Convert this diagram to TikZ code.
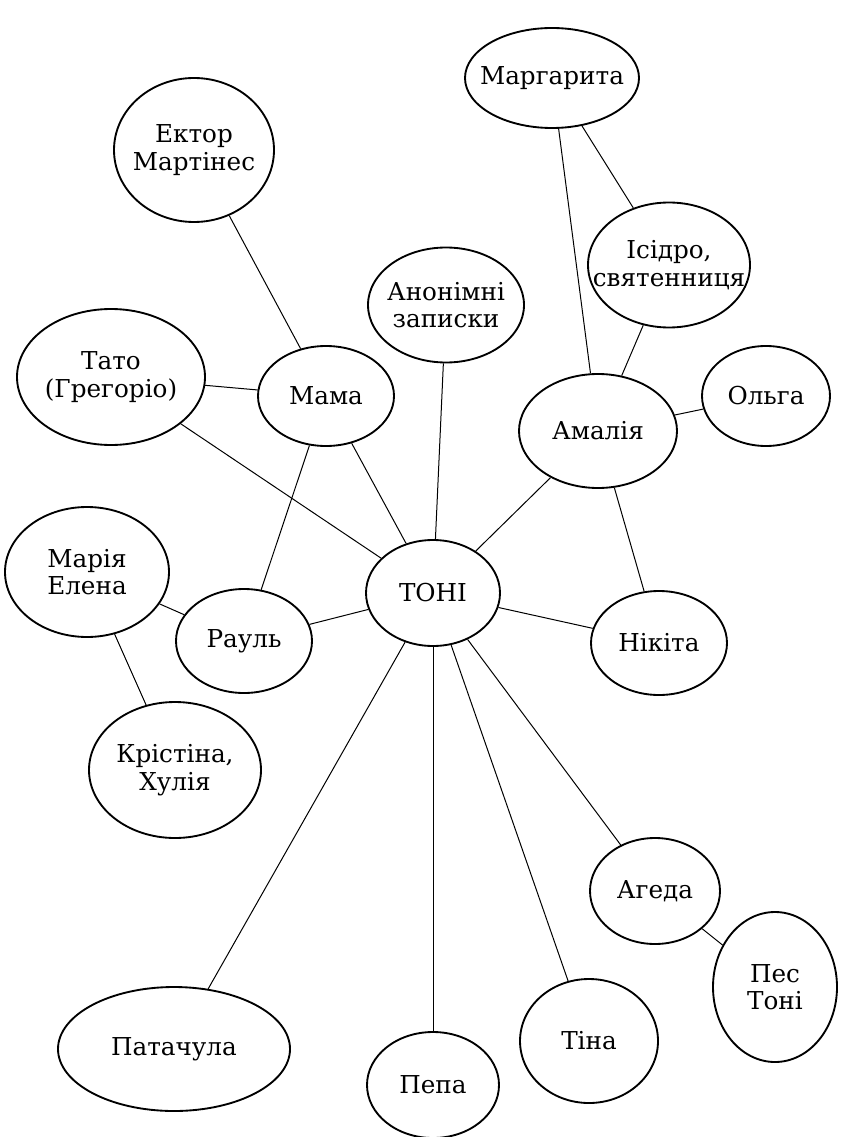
\documentclass[tikz,border=0pt]{standalone}
\usepackage{fontspec}
\setmainfont{DejaVu Serif}
\usetikzlibrary{shapes.geometric}
\tikzset{
  bulle/.style 2 args={ellipse, draw, line width=1.4pt, inner xsep=-25pt, inner ysep=-10pt,
    minimum width=#1*0.75pt, minimum height=#2*0.75pt, align=center,
    font=\fontsize{18.5}{20.5}\selectfont},
  lien/.style={line width=0.75pt}
}
\begin{document}
\begin{tikzpicture}[x=0.75pt,y=-0.75pt]
	\useasboundingbox (0,0) rectangle (849,1137);
		\node[bulle={174}{100}] (margarita) at (552,78) {Маргарита};
		\node[bulle={160}{144}] (ector) at (194,150) {Ектор\\Мартінес};
		\node[bulle={162}{125}] (isidro) at (669,265) {Ісідро,\\святенниця};
		\node[bulle={156}{115}] (zapysky) at (446,305) {Анонімні\\записки};
		\node[bulle={188}{136}] (tato) at (111,377) {Тато\\(Грегоріо)};
		\node[bulle={136}{100}] (mama) at (326,396) {Мама};
		\node[bulle={158}{114}] (amalia) at (598,431) {Амалія};
		\node[bulle={128}{100}] (olga) at (766,396) {Ольга};
		\node[bulle={164}{130}] (mariia) at (87,572) {Марія\\Елена};
		\node[bulle={134}{106}] (toni) at (433,593) {ТОНІ};
		\node[bulle={136}{104}] (raul) at (244,641) {Рауль};
		\node[bulle={136}{104}] (nikita) at (659,643) {Нікіта};
		\node[bulle={172}{136}] (kristina) at (175,770) {Крістіна,\\Хулія};
		\node[bulle={130}{106}] (ageda) at (655,891) {Агеда};
		\node[bulle={124}{150}] (pes) at (775,987) {Пес\\Тоні};
		\node[bulle={232}{124}] (patachula) at (174,1049) {Патачула};
		\node[bulle={138}{124}] (tina) at (589,1041) {Тіна};
		\node[bulle={132}{106}] (pepa) at (433,1085) {Пепа};
%		зв'язки
		\draw[lien] (margarita) -- (amalia);
		\draw[lien] (margarita) -- (isidro);
		\draw[lien] (isidro) -- (amalia);
		\draw[lien] (ector) -- (mama);
		\draw[lien] (zapysky) -- (toni);
		\draw[lien] (tato) -- (mama);
		\draw[lien] (tato) -- (toni);
		\draw[lien] (mama) -- (toni);
		\draw[lien] (mama) -- (raul);
		\draw[lien] (amalia) -- (olga);
		\draw[lien] (amalia) -- (toni);
		\draw[lien] (amalia) -- (nikita);
		\draw[lien] (mariia) -- (raul);
		\draw[lien] (mariia) -- (kristina);
		\draw[lien] (toni) -- (raul);
		\draw[lien] (toni) -- (nikita);
		\draw[lien] (toni) -- (patachula);
		\draw[lien] (toni) -- (pepa);
		\draw[lien] (toni) -- (tina);
		\draw[lien] (toni) -- (ageda);
		\draw[lien] (ageda) -- (pes);
\end{tikzpicture}
\end{document}
